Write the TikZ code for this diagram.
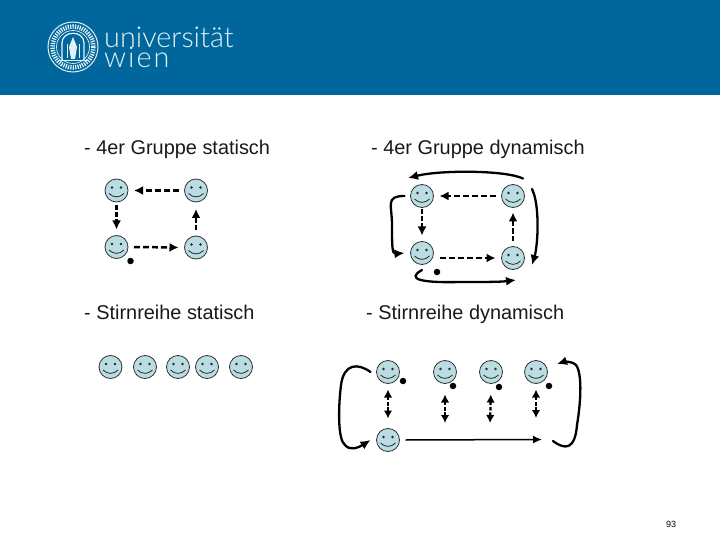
\documentclass[tikz,border=0pt]{standalone}
\usepackage{fontspec}
\setmainfont{Liberation Sans}
\newfontfamily\logofont{Lato Light}
\newfontfamily\logowide[LetterSpace=7]{Lato Light}
\usetikzlibrary{arrows.meta}
\definecolor{headblue}{HTML}{00669B}
\definecolor{logolight}{HTML}{E2F2F7}
\definecolor{facefill}{HTML}{B9DDE2}
\newcommand{\smiley}[2]{%
  \node[facenode] (#1) at (#2) {};
  \begin{scope}[shift={(#1.center)}]
    \fill[black!85] (-4.5,-3) circle (1.4) (4.5,-3) circle (1.4);
    \draw[line width=0.8pt,black!85] (-7.5,3) .. controls (-3,7.5) and (3,7.5) .. (7.5,3);
  \end{scope}}
\tikzset{
  x=1pt,y=-1pt,
  facenode/.style={circle,draw=black!80,line width=0.8pt,fill=facefill,minimum size=23pt,inner sep=0pt,outer sep=6pt},
  dotnode/.style={circle,fill=black,minimum size=6.5pt,inner sep=0pt},
  dasharrow/.style={line width=2.5pt,dash pattern=on 6pt off 3pt,-{Latex[length=9pt,width=9pt]}},
  dashboth/.style={line width=2.3pt,dash pattern=on 3.5pt off 1.8pt,{Latex[length=8pt,width=8.5pt]}-{Latex[length=8pt,width=8.5pt]}},
  curvearrow/.style={line width=2.3pt,line cap=round,-{Latex[length=10pt,width=9pt]}},
  solidarrow/.style={line width=1.5pt,-{Latex[length=9pt,width=8pt]}},
  heading/.style={anchor=base west,inner sep=0pt,font=\fontsize{19.9}{24}\selectfont,text=black!90},
  logotext/.style={anchor=base west,inner sep=0pt,text=logolight,font=\logofont\fontsize{28.8}{29}\selectfont},
}
\begin{document}
\begin{tikzpicture}
\useasboundingbox (0,0) rectangle (720,540);
\fill[headblue] (0,0) rectangle (720,95);
% logo
\node[circle,draw=logolight,line width=1pt,minimum size=50pt,inner sep=0pt] (seal) at (73,47) {};
\draw[logolight,line width=4.5pt,dash pattern=on 1.2pt off 1.2pt] (seal.center) circle (20.5);
\draw[logolight,line width=0.7pt] (seal.center) circle (16.5);
\draw[logolight,line width=1.2pt] (62,60) -- (62,43) .. controls (62,30) and (84,30) .. (84,43) -- (84,60);
\draw[logolight,line width=1pt] (59,61) -- (87,61) (67,58) -- (67,44) (79,58) -- (79,44);
\fill[logolight] (73,37) -- (77,47) -- (75,59) -- (71,59) -- (69,47) -- cycle;
\node[logotext] (uni) at (104,47.5) {universität};
\node[logotext] (wien) at (104,68) {\logowide wien};
% headings
\node[heading] (h1) at (84,155) {- 4er Gruppe statisch};
\node[heading] (h2) at (371,155) {- 4er Gruppe dynamisch};
\node[heading] (h3) at (84,319) {- Stirnreihe statisch};
\node[heading] (h4) at (366,319) {- Stirnreihe dynamisch};
\node[anchor=center,inner sep=0pt,font=\fontsize{9}{10}\selectfont] (pg) at (671,524) {93};
% group static
\smiley{a1}{116.5,190.5}
\smiley{a2}{196,190.5}
\smiley{a3}{116.5,247}
\smiley{a4}{196,247.5}
\node[dotnode] (ad) at (130.5,261) {};
\draw[dasharrow] (a2.west) -- (a1.east);
\draw[dasharrow,shorten <=-3pt,dash pattern=on 5pt off 2pt] (a1.south) -- (a3.north);
\draw[dasharrow] (a3.east) -- (a4.west);
\draw[dasharrow,shorten >=1pt,dash pattern=on 5pt off 2pt] (a4.north) -- (a2.south);
% group dynamic
\smiley{b1}{422,196}
\smiley{b2}{513,196}
\smiley{b3}{422,253}
\smiley{b4}{513,258}
\node[dotnode] (bd) at (437,272) {};
\draw[dasharrow] (b2.west) -- (b1.east);
\draw[dasharrow,shorten <=-4pt,shorten >=0pt,dash pattern=on 5pt off 2pt] (b1.south) -- (b3.north);
\draw[dasharrow] (b3.east |- b4.west) -- (b4.west);
\draw[dasharrow,line width=1.8pt,shorten >=-1pt,dash pattern=on 5pt off 2pt] (b4.north) -- (b2.south);
\coordinate (bt1) at (523,178.5);
\coordinate (bt2) at (408,178);
\draw[curvearrow] (bt1) .. controls (505,170) and (440,170) .. (bt2);
\draw[curvearrow] (b1.west) .. controls (385,196) and (392,205) .. (392,225) .. controls (392,245) and (392,254) .. (b3.west);
\coordinate (bb1) at (422,270);
\coordinate (bb2) at (516,280);
\draw[curvearrow] (bb1) .. controls (406,279) and (420,283) .. (460,282) .. controls (485,282) and (500,282) .. (bb2);
\coordinate (br1) at (532,189);
\coordinate (br2) at (532,265);
\draw[curvearrow] (br1) .. controls (540,205) and (538,245) .. (br2);
% row static
\smiley{c1}{110.5,367}
\smiley{c2}{145,367}
\smiley{c3}{178,367}
\smiley{c4}{207,367}
\smiley{c5}{241,367}
% row dynamic
\smiley{d1}{388,372}
\smiley{d2}{445,372}
\smiley{d3}{491,372}
\smiley{d4}{536,372}
\smiley{d5}{388,440}
\node[dotnode] (e1) at (403,381) {};
\node[dotnode] (e2) at (453,386) {};
\node[dotnode] (e3) at (499,387) {};
\node[dotnode] (e4) at (549,386) {};
\coordinate (f2) at (445,423);
\coordinate (f3) at (490,423);
\coordinate (f4) at (536,418);
\coordinate (f5) at (542,439.5);
\draw[dashboth,shorten >=4pt] (d1.south) -- (d5.north);
\draw[dashboth,shorten <=5pt] (d2.south) -- (f2);
\draw[dashboth,shorten <=5pt] (d3.south) -- (f3);
\draw[dashboth] (d4.south) -- (f4);
\draw[solidarrow] (d5.east) -- (f5);
\draw[curvearrow] (d1.west) .. controls (358,363) and (344,363) .. (341,385) .. controls (338,410) and (338,440) .. (345,445) .. controls (350,451) and (358,448) .. (d5.west);
\coordinate (g1) at (553,441);
\coordinate (g2) at (557,364);
\draw[curvearrow] (g1) .. controls (565,450) and (575,450) .. (577,425) .. controls (582,395) and (582,365) .. (573,363) .. controls (568,361) and (563,362) .. (g2);
\end{tikzpicture}
\end{document}
